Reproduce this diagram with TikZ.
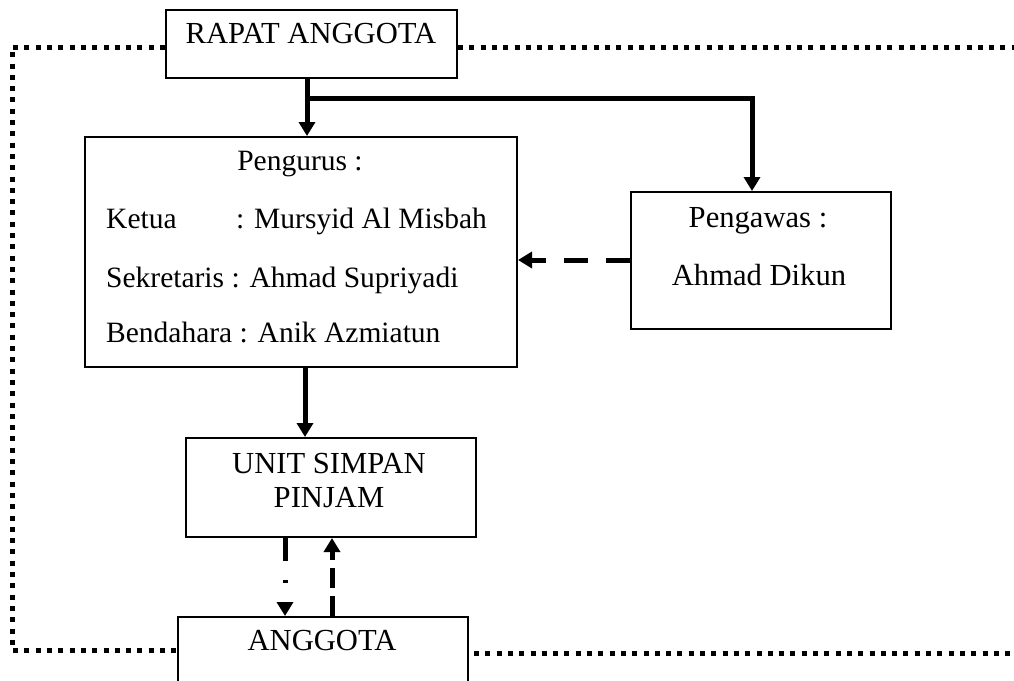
\documentclass[tikz,border=0pt]{standalone}
\usepackage{fontspec}
\setmainfont{Liberation Serif}
\usetikzlibrary{arrows.meta}
\begin{document}
\begin{tikzpicture}[x=1pt,y=-1pt,
  box/.style={draw,line width=2pt,inner sep=0pt},
  txt/.style={inner sep=0pt,font=\fontsize{30.6}{35}\selectfont},
  txtb/.style={inner sep=0pt,font=\fontsize{29.5}{34}\selectfont},
  solidarrow/.style={line width=5pt,-{Triangle[width=16pt,length=14pt]}},
  dasharrow/.style={line width=5pt,dash pattern=on 24pt off 18pt,-{Triangle[width=16pt,length=14pt]}},
  frameline/.style={line width=5pt,dash pattern=on 5pt off 6.3pt}]
\clip (0,0) rectangle (1014,680);
\fill[white] (0,0) rectangle (1014,680);
% boxes
\node[box,minimum width=291pt,minimum height=68pt] (rapat) at (311.5,44) {};
\node[box,minimum width=432pt,minimum height=230pt] (pengurus) at (301,252) {};
\node[box,minimum width=260pt,minimum height=137pt] (pengawas) at (761,260.5) {};
\node[box,minimum width=290pt,minimum height=99pt] (unit) at (331,487.5) {};
\node[box,minimum width=290pt,minimum height=130pt] (anggota) at (323,682) {};
% texts
\node[txt,anchor=base] (t1) at (311,43) {RAPAT ANGGOTA};
\node[txtb,anchor=base] (t2) at (300,170) {Pengurus :};
\node[txtb,anchor=base west] (t3) at (106,228) {Ketua};
\node[txtb,anchor=base west] (t4) at (236,228) {: Mursyid Al Misbah};
\node[txtb,anchor=base west] (t5) at (106,287) {Sekretaris : Ahmad Supriyadi};
\node[txtb,anchor=base west] (t6) at (106,342) {Bendahara : Anik Azmiatun};
\node[txt,anchor=base] (t7) at (758,227) {Pengawas :};
\node[txt,anchor=base] (t8) at (759,285) {Ahmad Dikun};
\node[txt,anchor=base] (t9) at (329,473) {UNIT SIMPAN};
\node[txt,anchor=base] (t10) at (329,507) {PINJAM};
\node[txt,anchor=base] (t11) at (322,650) {ANGGOTA};
% helper coordinates
\coordinate (xa) at (307,0);
\coordinate (xb) at (752,0);
\coordinate (j) at (307,98);
\coordinate (yd) at (0,260);
\coordinate (xc) at (305,0);
\coordinate (xd) at (285,0);
\coordinate (xe) at (332,0);
\coordinate (fl) at (12,47);
\coordinate (fr) at (1014,47);
\coordinate (bl) at (12,650);
\coordinate (br) at (1014,653);
\coordinate (bs) at (474,653);
% connectors
\draw[solidarrow] (rapat.south -| xa) -- (pengurus.north -| xa);
\draw[solidarrow,line join=miter] (j) -| (pengawas.north -| xb);
\draw[dasharrow] (pengawas.west |- yd) -- (pengurus.east |- yd);
\draw[solidarrow] (pengurus.south -| xc) -- (unit.north -| xc);
\draw[line width=5pt,dash pattern=on 23pt off 19pt on 3pt off 40pt,-{Triangle[width=16pt,length=14pt]}] (unit.south -| xd) -- (anggota.north -| xd);
\draw[line width=5pt,dash pattern=on 20pt off 8pt,-{Triangle[width=16pt,length=14pt]}] (anggota.north -| xe) -- (unit.south -| xe);
% dotted frame
\draw[frameline] (rapat.west |- fl) -- (fl) -- (bl) -- (anggota.west |- bl);
\draw[frameline] (rapat.east |- fr) -- (fr);
\draw[frameline] (bs) -- (br);
\end{tikzpicture}
\end{document}
